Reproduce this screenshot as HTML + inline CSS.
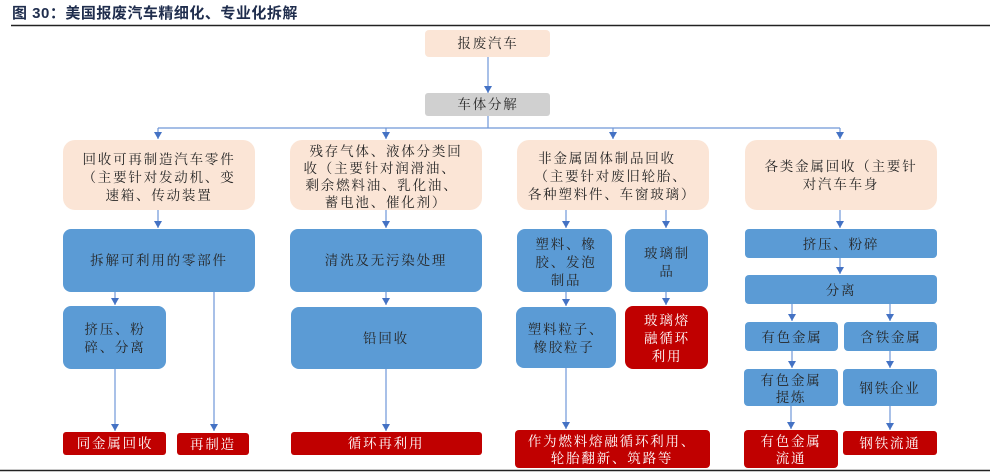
<!DOCTYPE html>
<html><head><meta charset="utf-8"><style>
html,body{margin:0;padding:0;background:#fff;}
svg{display:block;}
text{font-family:"Liberation Serif","Noto Serif CJK SC",serif;font-size:13.5px;text-anchor:middle;letter-spacing:1.8px;}
.d{fill:#262626;}
.w{fill:#fff;}
.p{fill:#fbe5d6;}
.b{fill:#5b9bd5;}
.r{fill:#c00000;}
.l{stroke:#6f97d8;stroke-width:1.2;fill:none;}
</style></head><body>
<svg width="1000" height="474" viewBox="0 0 1000 474" xmlns="http://www.w3.org/2000/svg">
<defs><marker id="a" markerWidth="8" markerHeight="9" refX="7" refY="4" orient="auto" markerUnits="userSpaceOnUse"><path d="M0,0 L7,4 L0,8 Z" fill="#4472c4"/></marker></defs>
<text x="12" y="18" style="text-anchor:start;font-family:'Liberation Sans','Noto Sans CJK SC',sans-serif;font-weight:bold;font-size:15px;letter-spacing:0.5px;fill:#1f2d4d">图  30：美国报废汽车精细化、专业化拆解</text>
<line x1="11" y1="25.5" x2="990" y2="25.5" stroke="#222" stroke-width="1.5"/>
<line x1="0" y1="470.5" x2="990" y2="470.5" stroke="#222" stroke-width="1.5"/>

<line class="l" x1="488" y1="57" x2="488" y2="93" marker-end="url(#a)"/>
<polyline class="l" points="488,116 488,128"/>
<line class="l" x1="158" y1="128" x2="840" y2="128"/>
<line class="l" x1="158" y1="128" x2="158" y2="139" marker-end="url(#a)"/>
<line class="l" x1="386" y1="128" x2="386" y2="139" marker-end="url(#a)"/>
<line class="l" x1="613" y1="128" x2="613" y2="139" marker-end="url(#a)"/>
<line class="l" x1="840" y1="128" x2="840" y2="139" marker-end="url(#a)"/>

<line class="l" x1="158" y1="210" x2="158" y2="228" marker-end="url(#a)"/>
<line class="l" x1="386" y1="210" x2="386" y2="228" marker-end="url(#a)"/>
<line class="l" x1="566" y1="210" x2="566" y2="228" marker-end="url(#a)"/>
<line class="l" x1="666" y1="210" x2="666" y2="228" marker-end="url(#a)"/>
<line class="l" x1="840" y1="210" x2="840" y2="228" marker-end="url(#a)"/>

<line class="l" x1="115" y1="292" x2="115" y2="305" marker-end="url(#a)"/>
<line class="l" x1="214" y1="292" x2="214" y2="431" marker-end="url(#a)"/>
<line class="l" x1="115" y1="369" x2="115" y2="431" marker-end="url(#a)"/>
<line class="l" x1="386" y1="292" x2="386" y2="305" marker-end="url(#a)"/>
<line class="l" x1="386" y1="369" x2="386" y2="431" marker-end="url(#a)"/>
<line class="l" x1="566" y1="292" x2="566" y2="306" marker-end="url(#a)"/>
<line class="l" x1="666" y1="292" x2="666" y2="305" marker-end="url(#a)"/>
<line class="l" x1="566" y1="368" x2="566" y2="429" marker-end="url(#a)"/>
<line class="l" x1="840" y1="258" x2="840" y2="274" marker-end="url(#a)"/>
<line class="l" x1="792" y1="304" x2="792" y2="321" marker-end="url(#a)"/>
<line class="l" x1="890" y1="304" x2="890" y2="321" marker-end="url(#a)"/>
<line class="l" x1="792" y1="351" x2="792" y2="368" marker-end="url(#a)"/>
<line class="l" x1="890" y1="351" x2="890" y2="368" marker-end="url(#a)"/>
<line class="l" x1="791" y1="406" x2="791" y2="429" marker-end="url(#a)"/>
<line class="l" x1="890" y1="406" x2="890" y2="430" marker-end="url(#a)"/>

<rect class="p" x="425" y="30" width="125" height="27" rx="4"/>
<text class="d" x="488" y="48">报废汽车</text>
<rect x="425" y="93" width="125" height="23" rx="3" fill="#d0d0d0"/>
<text class="d" x="488" y="109">车体分解</text>

<rect class="p" x="63" y="140" width="192" height="70" rx="12"/>
<text class="d" x="159" y="164">回收可再制造汽车零件</text>
<text class="d" x="159" y="182">（主要针对发动机、变</text>
<text class="d" x="159" y="200">速箱、传动装置</text>
<rect class="p" x="290" y="140" width="192" height="70" rx="12"/>
<text class="d" x="386" y="156">残存气体、液体分类回</text>
<text class="d" x="380" y="173">收（主要针对润滑油、</text>
<text class="d" x="382" y="190">剩余燃料油、乳化油、</text>
<text class="d" x="386" y="207">蓄电池、催化剂）</text>
<rect class="p" x="517" y="140" width="192" height="70" rx="12"/>
<text class="d" x="607" y="163">非金属固体制品回收</text>
<text class="d" x="611" y="181">（主要针对废旧轮胎、</text>
<text class="d" x="612" y="199">各种塑料件、车窗玻璃）</text>
<rect class="p" x="745" y="140" width="192" height="70" rx="12"/>
<text class="d" x="841" y="171">各类金属回收（主要针</text>
<text class="d" x="841" y="189">对汽车车身</text>

<rect class="b" x="63" y="229" width="192" height="63" rx="8"/>
<text class="d" x="159" y="265">拆解可利用的零部件</text>
<rect class="b" x="63" y="306" width="103" height="63" rx="8"/>
<text class="d" x="115" y="334">挤压、粉</text>
<text class="d" x="115" y="352">碎、分离</text>
<rect class="r" x="63" y="432" width="103" height="23" rx="3"/>
<text class="w" x="115" y="448">同金属回收</text>
<rect class="r" x="177" y="433" width="72" height="22" rx="3"/>
<text class="w" x="213" y="449">再制造</text>

<rect class="b" x="290" y="229" width="192" height="63" rx="8"/>
<text class="d" x="386" y="265">清洗及无污染处理</text>
<rect class="b" x="291" y="307" width="191" height="62" rx="8"/>
<text class="d" x="386" y="343">铅回收</text>
<rect class="r" x="291" y="432" width="191" height="23" rx="3"/>
<text class="w" x="386" y="448">循环再利用</text>

<rect class="b" x="517" y="229" width="95" height="63" rx="8"/>
<text class="d" x="566" y="249">塑料、橡</text>
<text class="d" x="566" y="267">胶、发泡</text>
<text class="d" x="566" y="285">制品</text>
<rect class="b" x="625" y="229" width="83" height="63" rx="8"/>
<text class="d" x="667" y="258">玻璃制</text>
<text class="d" x="667" y="276">品</text>
<rect class="b" x="516" y="307" width="100" height="61" rx="8"/>
<text class="d" x="566" y="334">塑料粒子、</text>
<text class="d" x="564" y="352">橡胶粒子</text>
<rect class="r" x="625" y="306" width="83" height="63" rx="8"/>
<text class="w" x="667" y="325">玻璃熔</text>
<text class="w" x="667" y="343">融循环</text>
<text class="w" x="667" y="361">利用</text>
<rect class="r" x="515" y="430" width="195" height="38" rx="4"/>
<text class="w" x="612" y="446">作为燃料熔融循环利用、</text>
<text class="w" x="612" y="463">轮胎翻新、筑路等</text>

<rect class="b" x="745" y="229" width="192" height="29" rx="4"/>
<text class="d" x="841" y="249">挤压、粉碎</text>
<rect class="b" x="745" y="275" width="192" height="29" rx="4"/>
<text class="d" x="841" y="295">分离</text>
<rect class="b" x="745" y="322" width="93" height="29" rx="4"/>
<text class="d" x="792" y="342">有色金属</text>
<rect class="b" x="844" y="322" width="93" height="29" rx="4"/>
<text class="d" x="891" y="342">含铁金属</text>
<rect class="b" x="744" y="369" width="94" height="37" rx="4"/>
<text class="d" x="791" y="385">有色金属</text>
<text class="d" x="791" y="402">提炼</text>
<rect class="b" x="843" y="369" width="94" height="37" rx="4"/>
<text class="d" x="890" y="393">钢铁企业</text>
<rect class="r" x="744" y="430" width="94" height="38" rx="4"/>
<text class="w" x="791" y="446">有色金属</text>
<text class="w" x="791" y="463">流通</text>
<rect class="r" x="843" y="431" width="94" height="24" rx="3"/>
<text class="w" x="890" y="448">钢铁流通</text>
</svg>
</body></html>
